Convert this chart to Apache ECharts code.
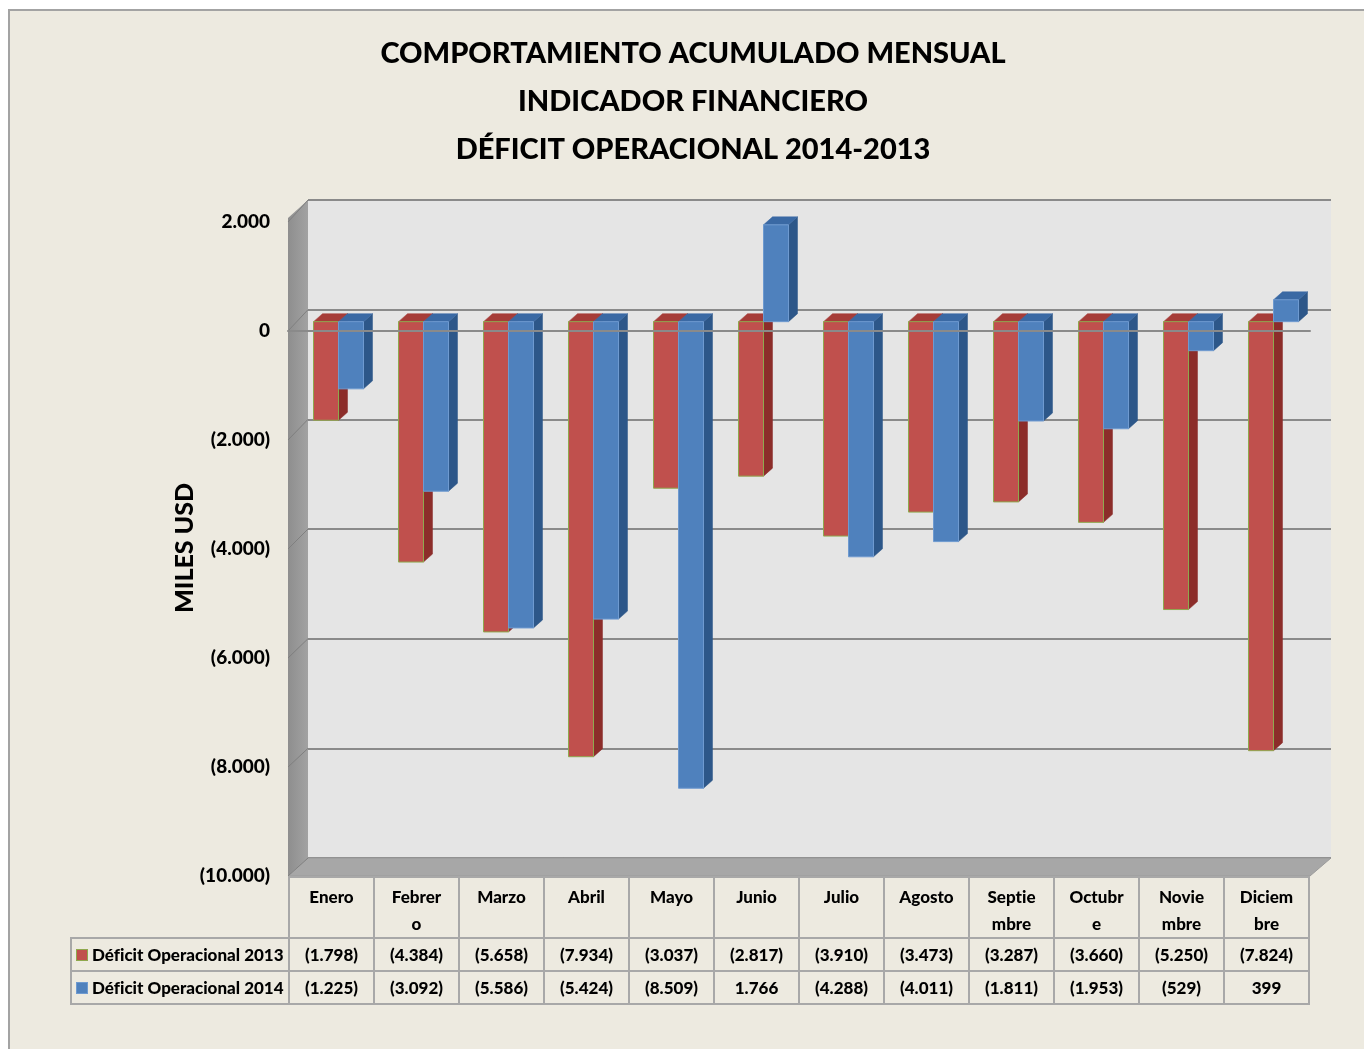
<!DOCTYPE html>
<html>
<head>
<meta charset="utf-8">
<script src="https://cdn.jsdelivr.net/npm/echarts@6/dist/echarts.min.js"></script>
<style>
body { margin: 0; background: #fff; }
#panel { position: absolute; left: 8px; top: 9px; width: 1360px; height: 1045px; background: #EDEAE0; border-left: 2px solid #A3A3A3; border-top: 2px solid #A3A3A3; }
#chart-container { position: absolute; left: 0; top: 0; width: 1364px; height: 1049px; }
#data-table { position: absolute; left: 70px; top: 876px; width: 1238px; table-layout: fixed; border-collapse: collapse; font-family: Lato, sans-serif; font-weight: 900; font-size: 17px; color: #000; font-variant-ligatures: none; }
#data-table td { border: 2px solid #A8A8A8; text-align: center; padding: 0; overflow: visible; }
#data-table tr.head td { height: 61px; vertical-align: top; line-height: 27px; padding-top: 5px; box-sizing: border-box; }
#data-table tr.row td { height: 33px; box-sizing: border-box; }
#data-table td.name { text-align: left; padding-left: 4px; white-space: nowrap; }
#data-table tr.head td.name { border: none; border-right: 2px solid #A8A8A8; }
.key { display: inline-block; width: 10px; height: 10px; margin-right: 4px; vertical-align: 0px; }
</style>
</head>
<body>
<div id="panel"></div>
<div id="chart-container"></div>
<table id="data-table"></table>
<script>
var titleLines = ['COMPORTAMIENTO ACUMULADO MENSUAL', 'INDICADOR FINANCIERO', 'DÉFICIT OPERACIONAL 2014-2013'];
var yAxisTitle = 'MILES USD';
var months = ['Enero', 'Febrer\no', 'Marzo', 'Abril', 'Mayo', 'Junio', 'Julio', 'Agosto', 'Septie\nmbre', 'Octubr\ne', 'Novie\nmbre', 'Diciem\nbre'];
var seriesNames = ['Déficit Operacional 2013', 'Déficit Operacional 2014'];
var deficit2013 = [-1798, -4384, -5658, -7934, -3037, -2817, -3910, -3473, -3287, -3660, -5250, -7824];
var deficit2014 = [-1225, -3092, -5586, -5424, -8509, 1766, -4288, -4011, -1811, -1953, -529, 399];
var yMin = -10000, yMax = 2000, yStep = 2000;

// colores de las caras: frente, lado, arriba, borde
var palette = [
    { front: '#C0504D', side: '#8C2D2A', top: '#A63C38', border: '#8FA84E' },
    { front: '#4F81BD', side: '#2D5789', top: '#3A69A4', border: '#6E9AD0' }
];

var DX = 9, DY = 8;

function fmt(v) {
    var s = Math.abs(v).toString().replace(/\B(?=(\d{3})+(?!\d))/g, '.');
    return v < 0 ? '(' + s + ')' : s;
}

function bar3d(seriesIdx) {
    return function (params, api) {
        var idx = api.value(0);
        var band = api.size([1, 0])[0];
        var w = band * 25 / 85;
        var zero = api.coord([idx, 0]);
        var yv = api.coord([idx, api.value(1)])[1];
        var x0 = zero[0] + (seriesIdx === 0 ? -w : 0);
        var x1 = x0 + w;
        var yTop = Math.min(zero[1], yv), yBot = Math.max(zero[1], yv);
        var c = palette[seriesIdx];
        return {
            type: 'group',
            children: [
                { type: 'polygon', shape: { points: [[x1, yTop], [x1 + DX, yTop - DY], [x1 + DX, yBot - DY], [x1, yBot]] },
                  style: { fill: c.side, stroke: c.side, lineWidth: 0.5 } },
                { type: 'polygon', shape: { points: [[x0, yTop], [x1, yTop], [x1 + DX, yTop - DY], [x0 + DX, yTop - DY]] },
                  style: { fill: c.top, stroke: c.top, lineWidth: 0.5 } },
                { type: 'rect', shape: { x: x0, y: yTop, width: w, height: yBot - yTop },
                  style: { fill: c.front, stroke: c.border, lineWidth: 1 } }
            ]
        };
    };
}

// capas del grafico en pixeles
var front = { left: 288, top: 222, width: 1022, height: 654 };
var bars = { left: 296, top: 212, width: 1020, height: 658 };
var wall = { left: 308, top: 200, width: 1023, height: 658 };

var nTicks = (yMax - yMin) / yStep;
var sideLines = [];
for (var k = 0; k <= nTicks; k++) {
    var yf = front.top + front.height * k / nTicks;
    var yb = wall.top + wall.height * k / nTicks;
    sideLines.push({ type: 'line', z: 2, shape: { x1: front.left, y1: yf, x2: wall.left, y2: yb },
        style: { stroke: '#7F7F7F', lineWidth: 1 } });
}

var chart = echarts.init(document.getElementById('chart-container'));
chart.setOption({
    backgroundColor: 'transparent',
    animation: false,
    grid: [
        Object.assign({ show: false }, front),
        Object.assign({ show: false }, bars),
        Object.assign({ show: true, backgroundColor: '#E5E5E5', borderWidth: 0 }, wall)
    ],
    xAxis: [
        { type: 'category', gridIndex: 0, data: months, z: 10,
          axisLine: { show: true, onZero: true, lineStyle: { color: '#8A8A8A', width: 2 } },
          axisTick: { show: false }, axisLabel: { show: false } },
        { type: 'category', gridIndex: 1, data: months, show: false },
        { type: 'category', gridIndex: 2, data: months, show: false }
    ],
    yAxis: [
        { type: 'value', gridIndex: 0, min: yMin, max: yMax, interval: yStep,
          axisLine: { show: false }, axisTick: { show: false }, splitLine: { show: false },
          axisLabel: { margin: 18, color: '#000', fontFamily: 'Lato', fontWeight: 900, fontSize: 19, formatter: fmt } },
        { type: 'value', gridIndex: 1, min: yMin, max: yMax, interval: yStep, show: false },
        { type: 'value', gridIndex: 2, min: yMin, max: yMax, interval: yStep,
          axisLine: { show: false }, axisTick: { show: false }, axisLabel: { show: false },
          splitLine: { show: true, lineStyle: { color: '#8A8A8A', width: 2 } } }
    ],
    graphic: [
        { type: 'text', x: 693, y: 30, z: 10,
          style: { text: titleLines.join('\n'), fill: '#000', font: '900 29px Lato', lineHeight: 48, textAlign: 'center' } },
        { type: 'text', x: 185, y: 548, rotation: Math.PI / 2, z: 10,
          style: { text: yAxisTitle, fill: '#000', font: '900 25px Lato', textAlign: 'center', textVerticalAlign: 'middle' } },
        { type: 'polygon', z: 1,
          shape: { points: [[front.left, front.top - 4], [wall.left, wall.top], [wall.left, wall.top + wall.height], [front.left, front.top + front.height]] },
          style: { fill: new echarts.graphic.LinearGradient(0, 0, 1, 0, [{ offset: 0, color: '#8E8E8E' }, { offset: 1, color: '#A2A2A2' }]) } },
        { type: 'polygon', z: 1,
          shape: { points: [[front.left, front.top + front.height], [wall.left, wall.top + wall.height], [wall.left + wall.width, wall.top + wall.height], [front.left + front.width, front.top + front.height]] },
          style: { fill: '#A7A7A7', stroke: '#9A9A9A', lineWidth: 1 } }
    ].concat(sideLines),
    series: [deficit2013, deficit2014].map(function (vals, i) {
        return {
            name: seriesNames[i],
            type: 'custom',
            xAxisIndex: 1,
            yAxisIndex: 1,
            z: 3,
            renderItem: bar3d(i),
            encode: { x: 0, y: 1 },
            data: vals.map(function (v, j) { return [j, v]; })
        };
    })
});

// tabla de datos bajo el eje
var table = document.getElementById('data-table');
var html = '<colgroup><col style="width:218px">';
months.forEach(function () { html += '<col style="width:85px">'; });
html += '</colgroup><tr class="head"><td class="name"></td>';
months.forEach(function (m) { html += '<td>' + m.replace('\n', '<br>') + '</td>'; });
html += '</tr>';
[deficit2013, deficit2014].forEach(function (vals, i) {
    var c = palette[i];
    html += '<tr class="row"><td class="name"><span class="key" style="background:' + c.front + ';border:1px solid ' + c.border + '"></span>' + seriesNames[i] + '</td>';
    vals.forEach(function (v) { html += '<td>' + fmt(v) + '</td>'; });
    html += '</tr>';
});
table.innerHTML = html;
</script>
</body>
</html>
